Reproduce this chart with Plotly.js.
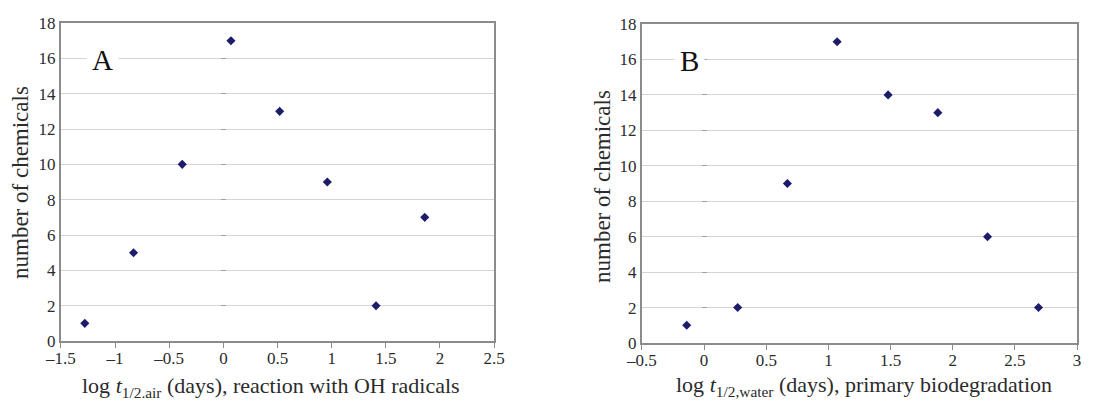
<!DOCTYPE html>
<html>
<head>
<meta charset="utf-8">
<script src="https://cdn.plot.ly/plotly-3.0.1.min.js"></script>
<style>html,body{margin:0;padding:0;background:#fff;}#chart{width:1119px;height:401px;}</style>
</head>
<body>
<div id="chart"></div>
<script>
// Panel A: log t1/2,air (days), reaction with OH radicals
const airLogHalfLife = [-1.28, -0.83, -0.38, 0.07, 0.52, 0.96, 1.41, 1.86];
const airCounts = [1, 5, 10, 17, 13, 9, 2, 7];
// Panel B: log t1/2,water (days), primary biodegradation
const waterLogHalfLife = [-0.14, 0.27, 0.67, 1.07, 1.48, 1.88, 2.28, 2.69];
const waterCounts = [1, 2, 9, 17, 14, 13, 6, 2];

const xTicksA = [-1.5, -1, -0.5, 0, 0.5, 1, 1.5, 2, 2.5];
const xTicksB = [-0.5, 0, 0.5, 1, 1.5, 2, 2.5, 3];
const yTicks = [0, 2, 4, 6, 8, 10, 12, 14, 16, 18];

const serif = "Liberation Serif";
const textColor = "#2b2b2b";
const markerColor = "#1c1c6b";
const frameColor = "#8c8c8c";
const W = 1119;

const domXA = [0.0545, 0.4415], rangeXA = [-1.5, 2.5];
const domXB = [0.5737, 0.9625], rangeXB = [-0.5, 3];

const marker = {symbol: "diamond", size: 7, color: markerColor};

const traces = [
  {x: airLogHalfLife, y: airCounts, type: "scatter", mode: "markers", marker: marker, xaxis: "x", yaxis: "y", showlegend: false, cliponaxis: false},
  {x: waterLogHalfLife, y: waterCounts, type: "scatter", mode: "markers", marker: marker, xaxis: "x2", yaxis: "y2", showlegend: false, cliponaxis: false},
  // invisible helpers so the crossing-tick axes at x = 0 get drawn
  {x: airLogHalfLife, y: airCounts, type: "scatter", mode: "markers", marker: {opacity: 0}, xaxis: "x", yaxis: "y3", showlegend: false, hoverinfo: "skip"},
  {x: waterLogHalfLife, y: waterCounts, type: "scatter", mode: "markers", marker: {opacity: 0}, xaxis: "x2", yaxis: "y4", showlegend: false, hoverinfo: "skip"}
];

function fmt(v) { return v < 0 ? "\u2013" + Math.abs(v) : String(v); }

function xAxis(domain, range, ticks, anchor) {
  return {
    domain: domain, range: range, anchor: anchor,
    tickmode: "array", tickvals: ticks, ticktext: ticks.map(fmt),
    showgrid: false, zeroline: false,
    showline: true, linecolor: frameColor, linewidth: 2, mirror: true,
    ticks: "outside", ticklen: 5, tickcolor: frameColor, tickwidth: 1,
    ticklabelstandoff: -4,
    tickfont: {family: serif, size: 17, color: textColor},
    fixedrange: true
  };
}
function yAxis(domain, anchor) {
  return {
    domain: domain, range: [0, 18], anchor: anchor,
    tickmode: "array", tickvals: yTicks, ticktext: yTicks.map(fmt),
    showgrid: true, gridcolor: "#d4d4d4", gridwidth: 1,
    zeroline: false,
    showline: true, linecolor: frameColor, linewidth: 2, mirror: true,
    ticks: "", ticklabelstandoff: 0,
    tickfont: {family: serif, size: 17, color: textColor},
    fixedrange: true
  };
}
function crossAxis(overlay, domX, rangeX) {
  const frac = (0 - rangeX[0]) / (rangeX[1] - rangeX[0]);
  return {
    overlaying: overlay, anchor: "free",
    position: domX[0] + frac * (domX[1] - domX[0]) + 2.5 / W,
    range: [0, 18], tickmode: "array", tickvals: yTicks.slice(1, -1),
    showticklabels: false, showgrid: false, zeroline: false, showline: false,
    ticks: "outside", ticklen: 5, tickcolor: "#a0a0a0", tickwidth: 1,
    fixedrange: true
  };
}

const layout = {
  width: 1119, height: 401,
  margin: {l: 0, r: 0, t: 0, b: 0},
  font: {family: serif, size: 17, color: textColor},
  paper_bgcolor: "#ffffff", plot_bgcolor: "#ffffff",
  xaxis: xAxis(domXA, rangeXA, xTicksA, "y"),
  yaxis: yAxis([0.1496, 0.9426], "x"),
  xaxis2: xAxis(domXB, rangeXB, xTicksB, "y2"),
  yaxis2: yAxis([0.1446, 0.9401], "x2"),
  yaxis3: crossAxis("y", domXA, rangeXA),
  yaxis4: crossAxis("y2", domXB, rangeXB),
  annotations: [
    {text: "A", x: 102/W, y: 1 - 60/401, xref: "paper", yref: "paper", xanchor: "center", yanchor: "middle",
     showarrow: false, font: {family: serif, size: 29, color: "#111"}, bgcolor: "#ffffff", borderpad: 5},
    {text: "B", x: 689/W, y: 1 - 61/401, xref: "paper", yref: "paper", xanchor: "center", yanchor: "middle",
     showarrow: false, font: {family: serif, size: 29, color: "#111"}, bgcolor: "#ffffff", borderpad: 5},
    {text: "number of chemicals", x: 20/W, y: 1 - 183/401, xref: "paper", yref: "paper", textangle: -90,
     xanchor: "center", yanchor: "middle",
     showarrow: false, font: {family: serif, size: 23, color: textColor}},
    {text: "number of chemicals", x: 603/W, y: 1 - 187/401, xref: "paper", yref: "paper", textangle: -90,
     xanchor: "center", yanchor: "middle",
     showarrow: false, font: {family: serif, size: 23, color: textColor}},
    {text: "log <i>t</i><sub>1/2.air</sub> (days), reaction with OH radicals", x: 271/W, y: 1 - 387/401, xref: "paper", yref: "paper",
     xanchor: "center", yanchor: "middle",
     showarrow: false, font: {family: serif, size: 22, color: textColor}},
    {text: "log <i>t</i><sub>1/2,water</sub> (days), primary biodegradation", x: 864/W, y: 1 - 386/401, xref: "paper", yref: "paper",
     xanchor: "center", yanchor: "middle",
     showarrow: false, font: {family: serif, size: 22, color: textColor}}
  ]
};

Plotly.newPlot("chart", traces, layout, {displayModeBar: false, staticPlot: true});
</script>
</body>
</html>
